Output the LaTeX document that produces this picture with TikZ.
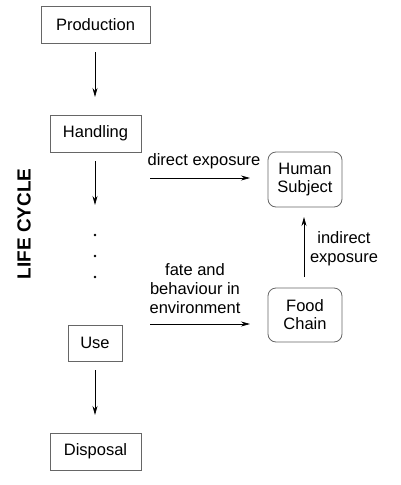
\documentclass[tikz,border=0pt]{standalone}
\usepackage{fontspec}
\setmainfont{Liberation Sans}
\usetikzlibrary{arrows.meta}
\begin{document}
\begin{tikzpicture}[x=1pt,y=-1pt,
  every node/.style={font=\fontsize{16.5}{19}\selectfont, inner sep=0pt},
  box/.style={draw=black!60, line width=0.8pt, minimum height=37pt},
  rbox/.style={draw=black!60, line width=0.8pt, rounded corners=8pt, minimum width=74pt, align=center},
  arr/.style={-{Stealth[length=9pt,width=5pt]}, line width=0.7pt},
  lbl/.style={align=center}]
\useasboundingbox (0,0) rectangle (400,485);
\node[box, minimum width=109pt] (prod) at (95.5,24.5) {Production};
\node[box, minimum width=91pt] (hand) at (95.5,133.5) {Handling};
\node[box, minimum width=54pt, minimum height=36pt] (use) at (95,343) {Use};
\node[box, minimum width=91pt] (disp) at (95.5,451.5) {Disposal};
\node[rbox, minimum height=55pt] (human) at (305,179.5) {Human\\[-1pt]Subject};
\node[rbox, minimum height=54pt] (food) at (305,315) {Food\\[-1pt]Chain};
\coordinate (a1s) at (95,52);
\coordinate (a1e) at (95,97);
\coordinate (a2s) at (95,161);
\coordinate (a2e) at (95,205);
\coordinate (a3s) at (95,370);
\coordinate (a3e) at (95,415);
\draw[arr] (a1s) -- (a1e);
\draw[arr] (a2s) -- (a2e);
\draw[arr] (a3s) -- (a3e);
\node[circle, fill=black, minimum size=2.6pt] (d1) at (95,235) {};
\node[circle, fill=black, minimum size=2.6pt] (d2) at (95,256) {};
\node[circle, fill=black, minimum size=2.6pt] (d3) at (95,277) {};
\coordinate (de1) at (150,178);
\coordinate (de2) at (250,178);
\draw[arr] (de1) -- (de2);
\node[lbl] (delbl) at (204,161) {direct exposure};
\coordinate (fe1) at (150,324);
\coordinate (fe2) at (250,324);
\draw[arr] (fe1) -- (fe2);
\node[lbl] (felbl) at (195,289) {fate and\\behaviour in\\environment};
\coordinate (ie1) at (304,277);
\coordinate (ie2) at (304,217);
\draw[arr] (ie1) -- (ie2);
\node[lbl] (ielbl) at (344,249) {indirect\\exposure};
\node[rotate=90, font=\fontsize{19}{22}\selectfont\bfseries] (lc) at (24,224) {LIFE CYCLE};
\end{tikzpicture}
\end{document}
